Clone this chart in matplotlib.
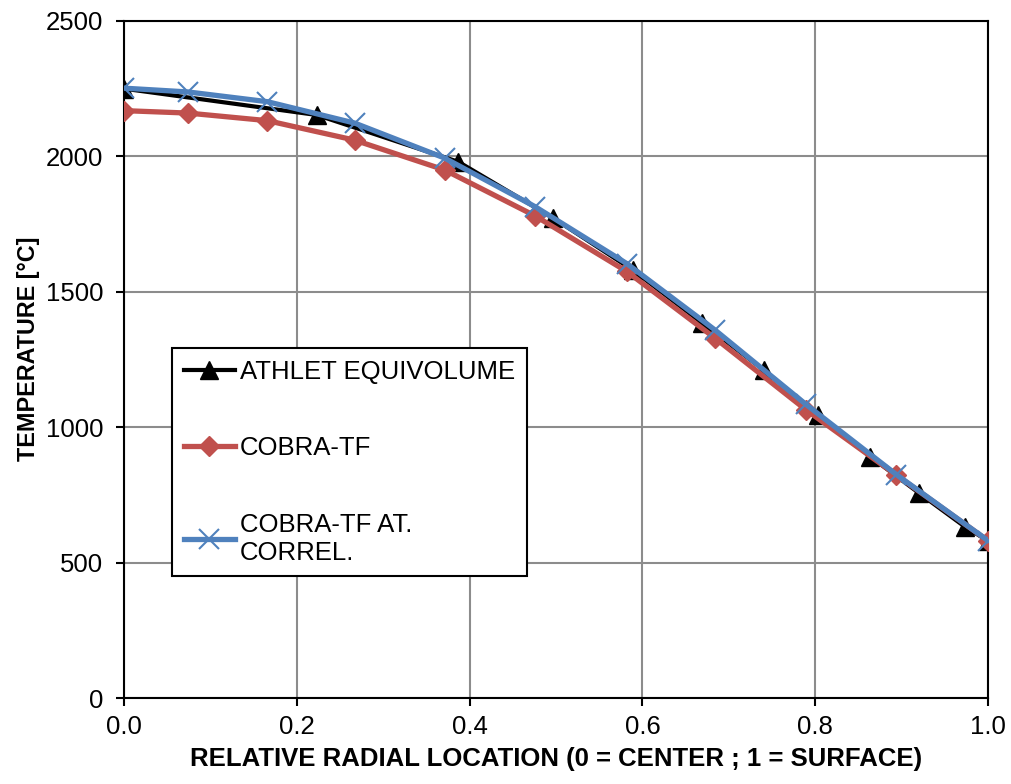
import matplotlib
matplotlib.use("Agg")
import matplotlib.pyplot as plt

plt.rcParams['font.family'] = ['Liberation Sans', 'DejaVu Sans']

# ATHLET EQUIVOLUME
athlet_x = [0.0, 0.223, 0.387, 0.497, 0.589, 0.669, 0.741, 0.803, 0.864, 0.920, 0.973, 1.0]
athlet_y = [2250, 2153, 1980, 1772, 1580, 1385, 1210, 1045, 891, 757, 633, 580]

# COBRA-TF
cobra_x = [0.0, 0.074, 0.166, 0.267, 0.371, 0.476, 0.582, 0.684, 0.789, 0.894, 1.0]
cobra_y = [2169, 2160, 2132, 2060, 1950, 1780, 1575, 1329, 1065, 823, 581]

# COBRA-TF AT. CORREL.
cobra_at_x = [0.0, 0.074, 0.166, 0.267, 0.371, 0.476, 0.582, 0.684, 0.789, 0.894, 1.0]
cobra_at_y = [2252, 2238, 2202, 2123, 1994, 1814, 1604, 1359, 1085, 825, 581]

xticks = [0.0, 0.2, 0.4, 0.6, 0.8, 1.0]
xticklabels = ["0.0", "0.2", "0.4", "0.6", "0.8", "1.0"]
yticks = [0, 500, 1000, 1500, 2000, 2500]

fig = plt.figure(figsize=(10.11, 7.84), dpi=100)
ax = fig.add_axes([124/1011, 1-698/784, (988-124)/1011, (698-21)/784])

ax.plot(athlet_x, athlet_y, color='black', lw=3, marker='^', ms=12.5,
        label='ATHLET EQUIVOLUME', zorder=3)
ax.plot(cobra_x, cobra_y, color='#c0504d', lw=3.8, marker='D', ms=10,
        label='COBRA-TF', zorder=4)
ax.plot(cobra_at_x, cobra_at_y, color='#4f81bd', lw=3.8, marker='x', ms=14, mew=1.5,
        label='COBRA-TF AT.\nCORREL.', zorder=5)

ax.set_xlim(0, 1)
ax.set_ylim(0, 2500)
ax.set_xticks(xticks)
ax.set_xticklabels(xticklabels)
ax.set_yticks(yticks)
ax.grid(True, color='#8c8c8c', lw=1.5)
ax.set_axisbelow(True)
for s in ax.spines.values():
    s.set_color('black')
    s.set_linewidth(1.5)
ax.tick_params(direction='out', length=6, width=1.5, labelsize=18.5)
ax.tick_params(axis='y', pad=9)
ax.tick_params(axis='x', pad=6)

ax.set_xlabel('RELATIVE RADIAL LOCATION (0 = CENTER ; 1 = SURFACE)',
              fontsize=18.5, fontweight='bold', labelpad=6)
ax.set_ylabel('TEMPERATURE [°C]', fontsize=16.8, fontweight='bold',
              ha='center', va='center', rotation_mode='anchor')
ax.yaxis.set_label_coords(-0.111, 0.5155)

leg = ax.legend(loc='upper left', bbox_to_anchor=(172/1011, 1-348/784),
                bbox_transform=fig.transFigure, fontsize=18.5, frameon=True,
                fancybox=False, edgecolor='black', framealpha=1,
                labelspacing=2.05, handlelength=2.0, handletextpad=0.2,
                borderaxespad=0, borderpad=0.45)
leg.get_frame().set_linewidth(1.5)

fig.savefig('out.png', dpi=100)
